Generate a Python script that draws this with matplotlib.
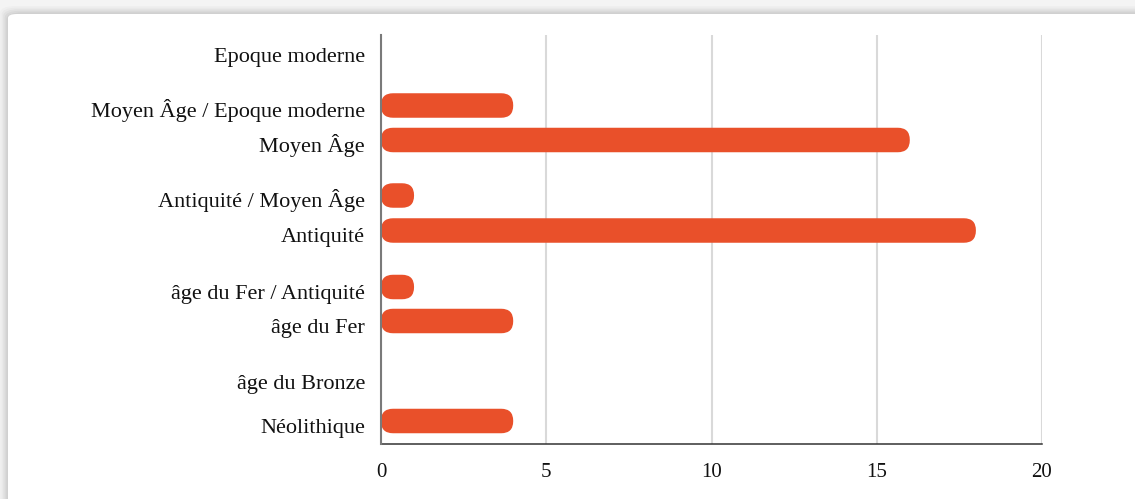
import matplotlib
matplotlib.use("Agg")
import matplotlib.pyplot as plt
from matplotlib.patches import FancyBboxPatch
from matplotlib.transforms import blended_transform_factory, ScaledTranslation

# ---- data ----
categories = ["Epoque moderne", "Moyen Âge / Epoque moderne", "Moyen Âge",
              "Antiquité / Moyen Âge", "Antiquité", "âge du Fer / Antiquité",
              "âge du Fer", "âge du Bronze", "Néolithique"]
values = [0, 4, 16, 1, 18, 1, 4, 0, 4]
x_ticks = [0, 5, 10, 15, 20]

# ---- layout (row centres, in pixel-like units from the top) ----
row_y = [50.5, 105.5, 140, 195.5, 230.5, 287, 321, 377.5, 421]
bar_h = 24.5
bar_color = "#E9502A"

W, H, DPI = 1135, 499, 100
fig = plt.figure(figsize=(W / DPI, H / DPI), dpi=DPI)
fig.patch.set_facecolor("#f4f4f4")

# card with soft shadow
for i, a in enumerate([0.02, 0.025, 0.03, 0.035, 0.04]):
    g = 8 - i * 1.6
    fig.patches.append(FancyBboxPatch(((8 - g) / W, -0.2), (W + 40) / W, (H - 14 + g) / H + 0.2,
                                      boxstyle="round,pad=0,rounding_size=0.014",
                                      transform=fig.transFigure, facecolor="black",
                                      edgecolor="none", alpha=a, zorder=-3))
fig.patches.append(FancyBboxPatch((8 / W, -0.2), (W + 40) / W, (H - 14) / H + 0.2,
                                  boxstyle="round,pad=0,rounding_size=0.008",
                                  transform=fig.transFigure, facecolor="white",
                                  edgecolor="none", zorder=-2))

ax = fig.add_axes([381 / W, 1 - 444 / H, (1042 - 381) / W, (444 - 35) / H])
ax.set_zorder(1)
ax.set_facecolor("none")
ax.set_xlim(0, 20)
ax.set_ylim(444, 35)

ax.set_xticks(x_ticks)
ax.set_xticklabels([str(t) for t in x_ticks], family="Liberation Serif", fontsize=15,
                   color="#111111")
ax.tick_params(axis="x", length=0, pad=14)
ax.set_yticks([])
ax.grid(axis="x", color="#d9d9d9", linewidth=1.5, zorder=0)
ax.set_axisbelow(True)

for s in ["top", "right"]:
    ax.spines[s].set_visible(False)
ax.spines["left"].set_color("#7a7a7a")
ax.spines["left"].set_linewidth(1.5)
ax.spines["bottom"].set_color("#333333")
ax.spines["bottom"].set_linewidth(1.1)
ax.spines["left"].set_zorder(3)

# rounded bars
fig.canvas.draw()
p0 = ax.transData.transform((0, 0))
p1 = ax.transData.transform((1, 1))
px_per_x = abs(p1[0] - p0[0])
px_per_y = abs(p1[1] - p0[1])
radius_px = 12
r_x = radius_px / px_per_x
aspect = px_per_x / px_per_y
for y, v in zip(row_y, values):
    if v <= 0:
        continue
    ax.add_patch(FancyBboxPatch((0, y - bar_h / 2), v, bar_h,
                                boxstyle=f"round,pad=0,rounding_size={r_x}",
                                mutation_aspect=aspect,
                                facecolor=bar_color, edgecolor="none", zorder=2))

# category labels (baseline slightly below row centre, like the reference)
trans = blended_transform_factory(ax.transAxes, ax.transData) + \
    ScaledTranslation(-16 / DPI, -11.5 / DPI, fig.dpi_scale_trans)
for y, c in zip(row_y, categories):
    ax.text(0, y, c, transform=trans, ha="right", va="baseline",
            family="Liberation Serif", fontsize=16, color="#111111")

fig.savefig("out.png", dpi=DPI, facecolor=fig.get_facecolor())
